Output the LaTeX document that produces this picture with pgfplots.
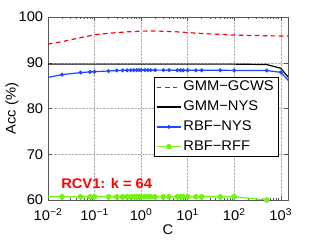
\documentclass[border=0pt]{standalone}
\usepackage{fontspec}
\setmainfont[FakeStretch=1.05]{Liberation Sans}
\usepackage{pgfplots}
\pgfplotsset{compat=1.18}
\definecolor{cred}{rgb}{1,0,0}
\definecolor{cblue}{rgb}{0.12,0.28,1}
\definecolor{cgreen}{rgb}{0.45,0.95,0.1}
\newcommand{\tl}[1]{10\textsuperscript{#1}}
\begin{document}
\fontsize{14}{16}\selectfont
\begin{tikzpicture}
\begin{axis}[
  scale only axis, width=240pt, height=183pt,
  at={(0,0)}, anchor=south west,
  xmode=log, xmin=0.01, xmax=1430, ymin=60, ymax=100,
  xtick={0.01,0.1,1,10,100,1000},
  xticklabels={\tl{−2},\tl{−1},\tl{0},\tl{1},\tl{2},\tl{3}},
  ytick={60,70,80,90,100},
  /pgf/number format/assume math mode=true,
  tick label style={font=\fontsize{14}{16}\selectfont},
  label style={font=\fontsize{14}{16}\selectfont},
  tick align=inside, major tick length=4pt, minor tick length=2pt,
  minor x tick num=8,
  grid=major, major grid style={densely dotted, gray!60},
  axis line style={gray!70!black},
  tick style={gray!70!black, thin},
  xlabel={C}, ylabel={Acc (\%)},
  xlabel style={at={(axis description cs:0.5,-0.16)}, anchor=center},
  ylabel style={at={(axis description cs:-0.15,0.5)}, anchor=center},
  xticklabel style={yshift=-4pt},
  legend style={at={(axis description cs:0.958,0.672)}, anchor=north east,
    draw=black, fill=white, font=\fontsize{14}{16}\selectfont,
    row sep=4pt, inner sep=2pt, cells={anchor=west}},
  legend cell align=left,
  legend image code/.code={\draw[mark repeat=2,mark phase=2] plot coordinates {(0cm,0cm) (0.42cm,0cm) (0.84cm,0cm)};},
  clip=true,
]
\addplot[cred, line width=1.2pt, dash pattern=on 4.5pt off 3.5pt] coordinates {
(0.01,94.1) (0.02,94.6) (0.05,95.5) (0.1,96.1) (0.2,96.45) (0.5,96.75) (1,96.9) (2,96.95)
(5,96.8) (10,96.6) (20,96.4) (50,96.2) (100,96.05) (500,95.9) (1000,95.85) (2000,95.85)};
\addlegendentry{GMM−GCWS}
\addplot[black, line width=1.2pt] coordinates {
(0.005,89.7) (0.1,89.7) (1,89.7) (10,89.7) (100,89.7) (500,89.6) (1000,88.8) (2000,85.1)};
\addlegendentry{GMM−NYS}
\addplot[cblue, line width=1.2pt, mark=*, mark size=1.3pt] coordinates {
(0.005,86.2) (0.02,87.4) (0.05,87.85) (0.08,88.0) (0.1,88.05) (0.2,88.2) (0.3,88.3) (0.4,88.33)
(0.5,88.35) (0.6,88.37) (0.7,88.38) (0.8,88.4) (0.9,88.4) (1,88.4) (1.2,88.4) (1.4,88.4) (1.6,88.4)
(2,88.4) (3,88.38) (4,88.37) (6,88.36) (7,88.35) (8,88.35) (10,88.35) (15,88.35) (20,88.35)
(50,88.35) (100,88.33) (500,88.3) (1000,87.9) (2000,84.6)};
\addlegendentry{RBF−NYS}
\addplot[cgreen, line width=1.2pt, mark=*, mark size=2.2pt] coordinates {
(0.005,60.7) (0.02,60.7) (0.05,60.7) (0.08,60.7) (0.1,60.7) (0.2,60.7) (0.3,60.7) (0.4,60.7)
(0.5,60.7) (0.6,60.7) (0.7,60.7) (0.8,60.7) (0.9,60.7) (1,60.7) (1.2,60.7) (1.4,60.7) (1.6,60.7)
(2,60.7) (3,60.7) (4,60.7) (6,60.7) (7,60.7) (8,60.7) (10,60.7) (15,60.7) (20,60.7)
(50,60.7) (100,60.7) (500,60.0)};
\addlegendentry{RBF−RFF}
\node[anchor=west, text=cred, font=\fontsize{14}{16}\selectfont\bfseries] at (rel axis cs:0.035,0.09) {RCV1: k = 64};
\end{axis}
\pgfresetboundingbox
\path[use as bounding box] (-48pt,-40pt) rectangle (271pt,200pt);
\end{tikzpicture}
\end{document}
